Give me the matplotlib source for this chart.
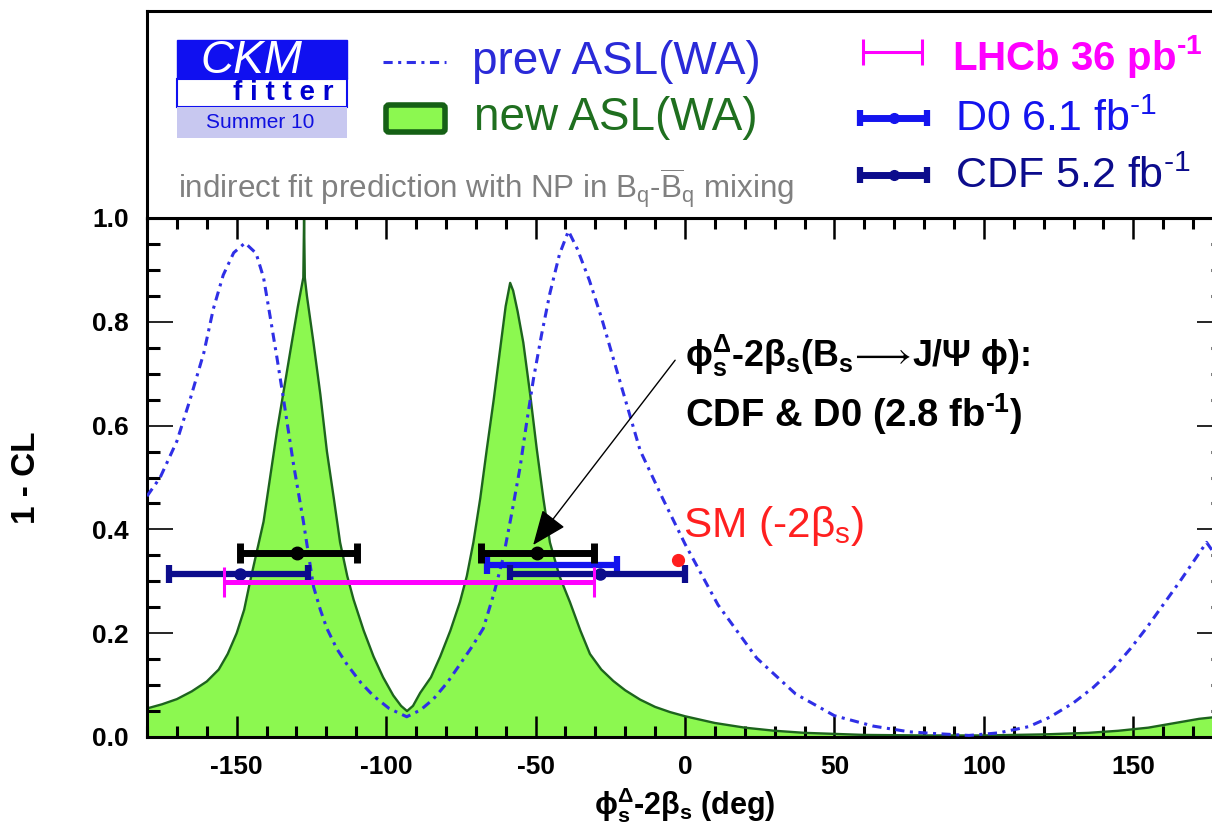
import numpy as np
import matplotlib
matplotlib.use('Agg')
import matplotlib.pyplot as plt
from matplotlib.patches import Rectangle, FancyBboxPatch
from matplotlib.lines import Line2D
from matplotlib.ticker import MultipleLocator

plt.rcParams['font.family'] = ['Liberation Sans', 'DejaVu Sans']
plt.rcParams['mathtext.fontset'] = 'custom'
plt.rcParams['mathtext.rm'] = 'Liberation Sans'
plt.rcParams['mathtext.it'] = 'Liberation Sans:italic'
plt.rcParams['mathtext.bf'] = 'Liberation Sans:bold'
plt.rcParams['mathtext.fallback'] = 'stixsans'
plt.rcParams['axes.unicode_minus'] = False

# 1-CL scan with the new ASL world average
new_phi = [-180, -175, -170, -165, -160, -156, -153, -150, -147.5, -145.5,
           -141, -136.5, -132, -129.5, -128.2, -127.7, -127.45, -127.2, -126.5, -124.3,
           -122, -119.8, -117.5, -115.4, -113, -110.9, -107.5, -104.2, -101, -97.6,
           -95, -93, -91, -88.6, -85, -81.9, -78.5, -75.3, -73, -70.8,
           -68.5, -66.3, -64, -61.9, -60, -58.5, -57.5, -56, -54.1, -51.8,
           -49.6, -47.4, -45.2, -42, -38.5, -35, -31.8, -28, -24, -20,
           -15, -10, -5, 0, 10, 20, 30, 40, 50, 60,
           80, 100, 120, 135, 145, 155, 165, 172, 180]
new_cl = [0.055, 0.063, 0.073, 0.088, 0.107, 0.13, 0.16, 0.2, 0.245, 0.30,
          0.415, 0.59, 0.745, 0.83, 0.87, 0.885, 1.0, 0.885, 0.85, 0.76,
          0.66, 0.55, 0.46, 0.375, 0.31, 0.265, 0.205, 0.155, 0.115, 0.08,
          0.06, 0.05, 0.06, 0.085, 0.115, 0.155, 0.205, 0.26, 0.31, 0.375,
          0.46, 0.555, 0.65, 0.745, 0.83, 0.875, 0.86, 0.82, 0.76, 0.66,
          0.555, 0.46, 0.375, 0.31, 0.26, 0.205, 0.16, 0.13, 0.108, 0.09,
          0.072, 0.058, 0.048, 0.04, 0.027, 0.018, 0.012, 0.008, 0.006, 0.004,
          0.003, 0.003, 0.005, 0.008, 0.012, 0.018, 0.028, 0.035, 0.04]

# 1-CL scan with the previous ASL world average
prev_phi = [-180, -175.6, -170, -165.6, -161, -157.8, -154.5, -151, -147.2, -143.5,
            -141, -138.8, -136.5, -134.3, -131, -127.7, -124.3, -122, -119.8, -116.5,
            -113.1, -108.5, -104.2, -99, -93.1, -88.5, -84.2, -79.5, -75.3, -71.5,
            -67.5, -64, -60.8, -58, -55.2, -53, -50.7, -48, -45.2, -42,
            -39, -36, -32, -27.9, -21.5, -15, -7.5, 0, 11, 24,
            37, 50, 63, 75, 82.5, 95, 105, 115, 122, 130,
            136.5, 143, 149, 154.4, 160, 165.6, 170, 174.5, 180]
prev_cl = [0.464, 0.50, 0.57, 0.65, 0.74, 0.825, 0.89, 0.933, 0.952, 0.932,
           0.885, 0.81, 0.73, 0.65, 0.526, 0.416, 0.29, 0.245, 0.209, 0.17,
           0.14, 0.105, 0.079, 0.055, 0.039, 0.052, 0.073, 0.105, 0.14, 0.172,
           0.209, 0.275, 0.346, 0.43, 0.519, 0.605, 0.69, 0.775, 0.855, 0.93,
           0.975, 0.94, 0.88, 0.807, 0.68, 0.552, 0.46, 0.372, 0.255, 0.152,
           0.083, 0.041, 0.021, 0.01, 0.007, 0.003, 0.008, 0.02, 0.038, 0.066,
           0.095, 0.13, 0.17, 0.21, 0.255, 0.30, 0.337, 0.375, 0.33]

# measured intervals (deg): low edge, central value, high edge
cdfd0_lo = [-149.0, -68.2]
cdfd0_c = [-129.7, -49.4]
cdfd0_hi = [-109.6, -30.5]
cdfd0_y = 0.354

d0_lo = [-66.3]
d0_c = [-44.5]
d0_hi = [-22.8]
d0_y = 0.331

cdf_lo = [-172.5, -58.5]
cdf_c = [-149.0, -28.4]
cdf_hi = [-126.0, 0.0]
cdf_y = 0.314

lhcb_lo = [-154.2]
lhcb_hi = [-30.3]
lhcb_y = 0.299

sm_phi = -2.2
sm_cl = 0.342

GREEN = '#8cf850'
DKGREEN = '#1d641d'
DASHBLUE = '#2f2fe6'
D0BLUE = '#1414ee'
NAVY = '#0c0c8c'
MAGENTA = '#ff00ff'
HYPH = '\u2010'

W, H = 1212, 833
fig = plt.figure(figsize=(W / 100, H / 100), dpi=100)
ax = fig.add_axes([147 / W, 1 - 737 / H, 1076 / W, 519 / H])
hx = fig.add_axes([147 / W, 1 - 218 / H, 1076 / W, 207 / H])

# --- main frame ---
ax.fill_between(new_phi, 0, new_cl, color=GREEN, lw=0, zorder=1)
ax.plot(new_phi, new_cl, color=DKGREEN, lw=1.7, zorder=2)
ax.plot(prev_phi, prev_cl, color=DASHBLUE, lw=2.2, ls=(0, (3, 1.8, 1, 1.8)), zorder=3)


def bars(lo, c, hi, y, color, lw, cap, ms, z, fmt='o'):
    lo, c, hi = map(np.asarray, (lo, c, hi))
    ax.errorbar(c, np.full(len(c), y), xerr=[c - lo, hi - c], fmt=fmt, color=color,
                ms=ms, elinewidth=lw, capsize=cap, capthick=lw, zorder=z)


bars(d0_lo, d0_c, d0_hi, d0_y, D0BLUE, 4.5, 6.5, 8, 4, fmt='none')
bars(cdf_lo, cdf_c, cdf_hi, cdf_y, NAVY, 4.5, 6.5, 8, 5)
bars(cdfd0_lo, cdfd0_c, cdfd0_hi, cdfd0_y, 'black', 5, 7, 9, 6)
lo, hi = np.asarray(lhcb_lo), np.asarray(lhcb_hi)
ax.errorbar((lo + hi) / 2, [lhcb_y], xerr=(hi - lo) / 2, fmt='none', ecolor=MAGENTA,
            elinewidth=3.6, capsize=10.8, capthick=2.2, zorder=7)
ax.plot([sm_phi], [sm_cl], 'o', color='#ff1e1e', ms=8.5, zorder=8)

ax.text(-0.7, 0.385, r'SM (-2β$_{\rm s}$)', color='#ff2020', fontsize=30.5, va='baseline')
ax.annotate('', xy=(-50.8, 0.37), xytext=(-3.3, 0.726),
            arrowprops=dict(arrowstyle='-|>,head_length=1.1,head_width=0.45',
                            mutation_scale=20, lw=1, color='black', shrinkA=0, shrinkB=0),
            zorder=9)
ax.text(0, 0.713,
        r'ϕ$^{\mathbf{Δ}}_{\mathbf{s}}$-2β$_{\mathbf{s}}$(B$_{\mathbf{s}}\!\longrightarrow\!$J/Ψ ϕ):',
        fontsize=25.8, fontweight='bold', va='baseline')
ax.text(0, 0.597, r'CDF & D0 (2.8 fb$^{\mathbf{' + HYPH + '1}}$)', fontsize=27.5,
        fontweight='bold', va='baseline')

ax.set_xlim(-180, 180)
ax.set_ylim(0, 1)
ax.xaxis.set_major_locator(MultipleLocator(50))
ax.xaxis.set_minor_locator(MultipleLocator(10))
ax.yaxis.set_major_locator(MultipleLocator(0.2))
ax.yaxis.set_minor_locator(MultipleLocator(0.05))
ax.yaxis.set_major_formatter('{x:.1f}')
ax.tick_params(which='both', direction='in', top=True, right=True, labelsize=19, pad=13)
ax.tick_params(axis='x', which='major', length=15, width=1.8)
ax.tick_params(axis='x', which='minor', length=8, width=2.2)
ax.tick_params(axis='y', which='major', length=19, width=1.2)
ax.tick_params(axis='y', which='minor', length=9, width=2.2)
for lab in ax.get_xticklabels() + ax.get_yticklabels():
    lab.set_fontweight('bold')
for sp in ax.spines.values():
    sp.set_linewidth(2.2)
ax.set_xlabel(r'ϕ$^{\mathbf{Δ}}_{\mathbf{s}}$-2β$_{\mathbf{s}}$ (deg)', fontsize=22,
              fontweight='bold', va='center')
ax.xaxis.set_label_coords(0.5, -0.131)
ax.set_ylabel('1 - CL', fontsize=24, fontweight='bold', va='center')
ax.yaxis.set_label_coords(-0.112, 0.5)

# --- header panel (pixel-like coordinates) ---
hx.set_xlim(147, 1223)
hx.set_ylim(218, 11)
hx.set_xticks([])
hx.set_yticks([])
for sp in hx.spines.values():
    sp.set_linewidth(2.2)

hx.add_patch(Rectangle((177, 40), 170, 39, fc='#1010f0', ec='#1010f0'))
hx.add_patch(Rectangle((177, 79), 170, 28, fc='white', ec='#1010f0', lw=1.5))
hx.add_patch(Rectangle((177, 107), 170, 31, fc='#c8c8f0', ec='none'))
hx.text(251, 61, 'CKM', color='white', fontsize=33, style='italic', ha='center', va='center')
hx.text(283, 93, 'f i t t e r', color='#0000d0', fontsize=20, fontweight='bold',
        ha='center', va='center')
hx.text(260, 123, 'Summer 10', color='#1010e0', fontsize=15, ha='center', va='center')

hx.add_line(Line2D([383, 446], [62, 62], color=DASHBLUE, lw=2.2, ls=(0, (3, 1.8, 1, 1.8))))
hx.text(472, 62, 'prev ASL(WA)', color='#2a2ad8', fontsize=33, va='center')
hx.add_patch(FancyBboxPatch((386, 105), 59, 27, boxstyle='round,pad=0,rounding_size=3',
                            fc=GREEN, ec='#156015', lw=4))
hx.text(474, 118, 'new ASL(WA)', color='#1f6f1f', fontsize=33, va='center')
hx.text(178, 188, r'indirect fit prediction with NP in B$_{\rm q}$-$\overline{\rm B}_{\rm q}$ mixing',
        color='#808080', fontsize=22.6, va='center')

hx.errorbar([892.5], [52], xerr=[29.5], fmt='none', ecolor=MAGENTA, elinewidth=2.2,
            capsize=9.7, capthick=2.2)
hx.text(952, 57, r'LHCb 36 pb$^{\mathbf{' + HYPH + '1}}$', color=MAGENTA, fontsize=29,
        fontweight='bold', va='center')
hx.errorbar([893.5], [118], xerr=[33.5], fmt='o', color=D0BLUE, ms=7, elinewidth=5,
            capsize=6, capthick=4.5)
hx.text(955, 120, r'D0 6.1 fb$^{' + HYPH + '1}$', color=D0BLUE, fontsize=31, va='center')
hx.errorbar([893.5], [175], xerr=[33.5], fmt='o', color=NAVY, ms=7, elinewidth=5,
            capsize=6, capthick=4.5)
hx.text(955, 177, r'CDF 5.2 fb$^{' + HYPH + '1}$', color=NAVY, fontsize=31, va='center')

fig.savefig('out.png', dpi=100)
